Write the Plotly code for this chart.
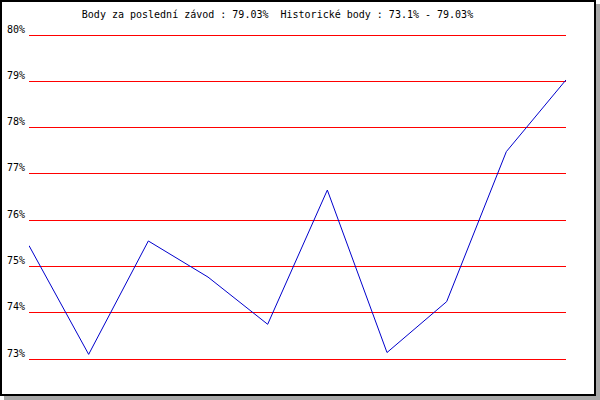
import plotly.graph_objects as go

# Data
races = list(range(10))
points = [75.45, 73.1, 75.55, 74.77, 73.75, 76.65, 73.14, 74.24, 77.48, 79.03]
tick_vals = [73, 74, 75, 76, 77, 78, 79, 80]
tick_text = ["73%", "74%", "75%", "76%", "77%", "78%", "79%", "80%"]
title_text = "Body za poslední závod : 79.03%  Historické body : 73.1% - 79.03%"

W, H = 600, 400
PAD = 3
L, R, T, B = 29, 34, 35 - PAD, 41 - PAD
pw, ph = W - L - R, H - T - B
unit = (ph - 2 * PAD) / 7.0
d = PAD / unit

def px(x):
    return (x - L) / pw

def py(y):
    return (H - B - y) / ph

fig = go.Figure()
fig.add_trace(go.Scatter(x=races, y=points, mode="lines",
                         line=dict(color="#0000cc", width=1), hoverinfo="skip"))

shapes = [
    dict(type="rect", xref="paper", yref="paper", x0=px(596), x1=px(600), y0=py(4), y1=py(400),
         fillcolor="#a8a8a8", line=dict(width=0), layer="above"),
    dict(type="rect", xref="paper", yref="paper", x0=px(4), x1=px(600), y0=py(396), y1=py(400),
         fillcolor="#a8a8a8", line=dict(width=0), layer="above"),
    dict(type="rect", xref="paper", yref="paper", x0=px(1), x1=px(595), y0=py(1), y1=py(395),
         line=dict(color="black", width=2), fillcolor="rgba(0,0,0,0)", layer="above"),
]

fig.update_layout(
    width=W, height=H, autosize=False,
    margin=dict(l=L, r=R, t=T, b=B, pad=0, autoexpand=False),
    paper_bgcolor="white", plot_bgcolor="white",
    showlegend=False,
    font=dict(family="DejaVu Sans Mono", size=10, color="black"),
    title=dict(text=title_text, x=277.5 / W, xanchor="center", xref="container",
               y=1 - 14 / H, yanchor="middle", yref="container",
               font=dict(family="DejaVu Sans Mono", size=10, color="black")),
    xaxis=dict(range=[0, 9], showgrid=False, zeroline=False, showticklabels=False,
               showline=False, ticks="", fixedrange=True, automargin=False),
    yaxis=dict(range=[73 - d, 80 + d], tickvals=tick_vals, ticktext=tick_text,
               showgrid=True, gridcolor="#ff0000", gridwidth=1,
               zeroline=False, showline=False, ticks="", automargin=False,
               fixedrange=True,
               ticklabelshift=-6, ticklabelstandoff=3,
               tickfont=dict(family="DejaVu Sans Mono", size=10, color="black")),
    shapes=shapes,
)

fig.write_html("out.html", config={"displayModeBar": False, "staticPlot": True},
               post_script="document.body.style.margin='0';document.body.style.padding='0';")
